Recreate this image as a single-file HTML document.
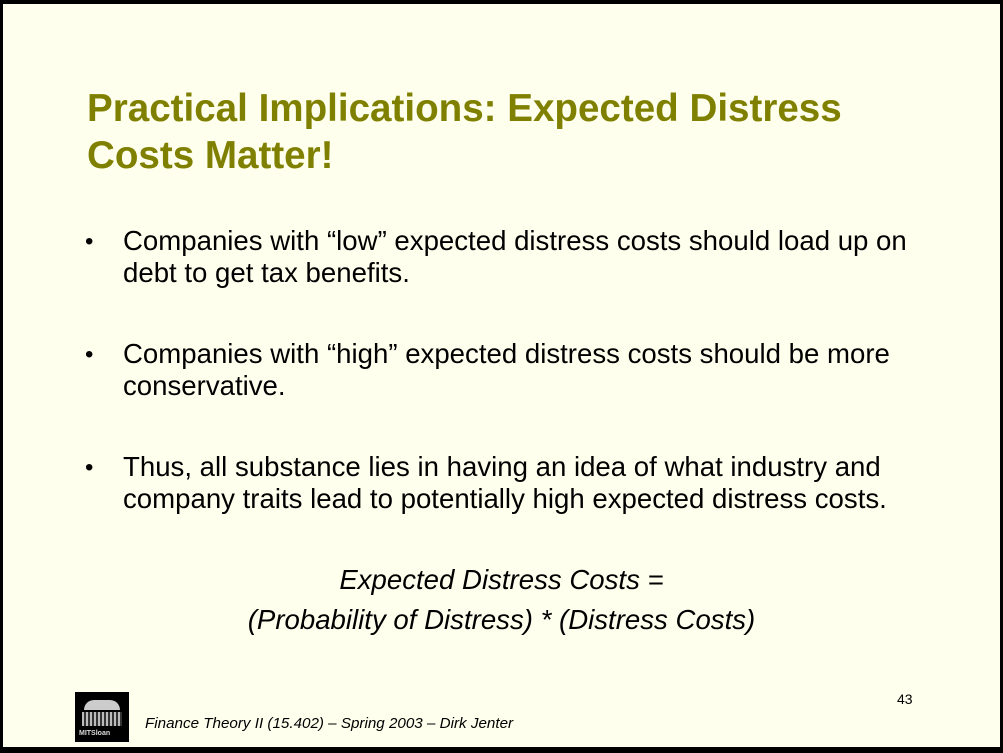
<!DOCTYPE html>
<html><head><meta charset="utf-8"><style>
html,body{margin:0;padding:0}
body{width:1003px;height:753px;position:relative;background:#000;overflow:hidden;font-family:"Liberation Sans",Arial,sans-serif}
#slide{position:absolute;left:3px;top:4px;width:997px;height:743px;background:#FFFFEE}
.t{position:absolute;white-space:nowrap;color:#000}
#title{left:84px;top:81px;font-size:38.6px;font-weight:bold;color:#808000;line-height:47px}
.b{font-size:27.6px;line-height:32px}
.dot{position:absolute;font-size:24px}
.f{font-size:27.6px;font-style:italic;width:997px;text-align:center;left:0;line-height:32px}
</style></head><body>
<div id="slide">
<div class="t" id="title">Practical Implications: Expected Distress<br>Costs Matter!</div>
<div class="t dot" style="left:82px;top:224px">•</div>
<div class="t b" style="left:120px;top:221px">Companies with “low” expected distress costs should load up on<br>debt to get tax benefits.</div>
<div class="t dot" style="left:82px;top:337px">•</div>
<div class="t b" style="left:120px;top:334px">Companies with “high” expected distress costs should be more<br>conservative.</div>
<div class="t dot" style="left:82px;top:450px">•</div>
<div class="t b" style="left:120px;top:447px">Thus, all substance lies in having an idea of what industry and<br>company traits lead to potentially high expected distress costs.</div>
<div class="t f" style="top:560px">Expected Distress Costs =</div>
<div class="t f" style="top:600px">(Probability of Distress) * (Distress Costs)</div>
<div class="t" style="left:894px;top:687px;font-size:14px">43</div>
<div style="position:absolute;left:72px;top:688px;width:54px;height:50px;background:#000">
<div style="position:absolute;left:9px;top:8px;width:36px;height:10px;background:#ccc;border-radius:18px 18px 0 0"></div>
<div style="position:absolute;left:7px;top:20px;width:40px;height:14px;background:repeating-linear-gradient(90deg,#bbb 0 2px,#333 2px 4px)"></div>
<div style="position:absolute;left:4px;top:38px;font-size:7px;color:#ddd;font-weight:bold">MITSloan</div>
</div>
<div class="t" style="left:142px;top:711px;font-size:15.2px;font-style:italic">Finance Theory II (15.402) – Spring 2003 – Dirk Jenter</div>
</div>
</body></html>
